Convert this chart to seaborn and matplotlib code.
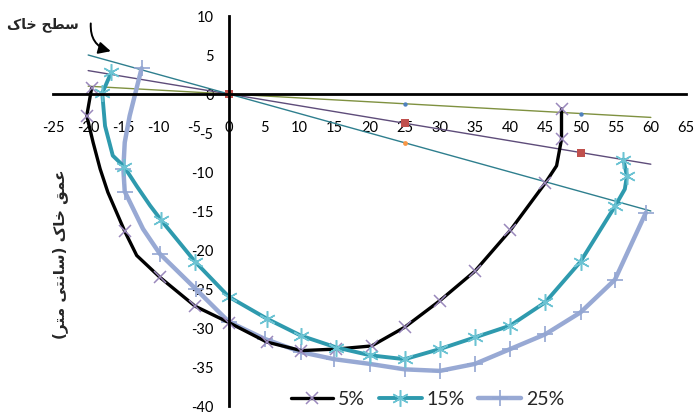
import matplotlib
matplotlib.use("Agg")
import matplotlib.pyplot as plt
import seaborn as sns

# ---------------- data ----------------
# 5 % curve (black, x markers)
c5_x = [-19.5, -20.2, -19.3, -18.3, -17.2, -14.8, -13.1, -9.8, -4.8, 0.0, 5.4, 10.3,
        15.3, 20.3, 25.0, 30.0, 35.0, 40.0, 45.0, 46.6, 47.3, 47.3]
c5_y = [0.8, -2.8, -6.2, -9.6, -12.6, -17.6, -20.7, -23.5, -27.2, -29.3, -31.8, -32.9,
        -32.7, -32.3, -29.9, -26.5, -22.7, -17.5, -11.4, -9.2, -5.8, -1.9]
c5_marks = [0, 1, 5, 7, 8, 9, 10, 11, 12, 13, 14, 15, 16, 17, 18, 20, 21]

# 15 % curve (teal, star markers)
c15_x = [-16.7, -18.0, -17.6, -16.5, -14.9, -13.1, -11.2, -9.6, -4.8, 0.0, 5.4, 10.3,
         15.3, 20.1, 25.0, 30.0, 35.0, 40.0, 45.0, 50.0, 54.9, 56.3, 56.6, 56.1]
c15_y = [2.8, 0.1, -4.1, -7.9, -9.3, -11.8, -14.3, -16.2, -21.5, -26.0, -28.8, -31.0,
         -32.5, -33.5, -34.0, -32.7, -31.2, -29.7, -26.7, -21.5, -14.4, -12.2, -10.5, -8.4]
c15_marks = [0, 1, 4, 7, 8, 9, 10, 11, 12, 13, 14, 15, 16, 17, 18, 19, 20, 22, 23]

# 25 % curve (light blue, plus markers)
c25_x = [-12.4, -14.1, -14.8, -15.0, -14.8, -12.2, -9.8, -4.7, 0.0, 5.1, 10.3, 15.0,
         20.0, 25.0, 30.0, 35.0, 40.0, 45.0, 50.0, 54.9, 59.3]
c25_y = [3.3, -2.8, -6.2, -9.6, -12.5, -17.3, -20.5, -25.0, -29.2, -31.4, -33.1, -34.0,
         -34.6, -35.3, -35.5, -34.6, -32.7, -30.8, -28.0, -23.8, -15.2]
c25_marks = [0, 3, 4, 6, 7, 8, 9, 10, 11, 12, 13, 14, 15, 16, 17, 18, 19, 20]

series_labels = ["5%", "15%", "25%"]

# straight reference lines from the origin
ref_x = [-20, 60]
ref_green_y = [1.0, -3.0]
ref_purple_y = [3.0, -9.0]
ref_teal_y = [5.0, -15.0]
# small markers on the reference lines
pts_x = [0, 25, 50]
pts_green_y = [0.0, -1.25, -2.5]
pts_purple_y = [0.0, -3.75, -7.5]
pts_teal_x = [0, 25]
pts_teal_y = [0.0, -6.25]

x_ticks = list(range(-25, 70, 5))
y_ticks = list(range(-40, 15, 5))

ylabel_text = "عمق خاک (سانتی متر)"
annot_text = "سطح خاک"

# ---------------- minimal Arabic/Persian shaping for display ----------------
FORMS = {
    '\u0627': ('\uFE8D', '\uFE8E', None, None),
    '\u062A': ('\uFE95', '\uFE96', '\uFE97', '\uFE98'),
    '\u062D': ('\uFEA1', '\uFEA2', '\uFEA3', '\uFEA4'),
    '\u062E': ('\uFEA5', '\uFEA6', '\uFEA7', '\uFEA8'),
    '\u0631': ('\uFEAD', '\uFEAE', None, None),
    '\u0633': ('\uFEB1', '\uFEB2', '\uFEB3', '\uFEB4'),
    '\u0637': ('\uFEC1', '\uFEC2', '\uFEC3', '\uFEC4'),
    '\u0639': ('\uFEC9', '\uFECA', '\uFECB', '\uFECC'),
    '\u0642': ('\uFED5', '\uFED6', '\uFED7', '\uFED8'),
    '\u0645': ('\uFEE1', '\uFEE2', '\uFEE3', '\uFEE4'),
    '\u0646': ('\uFEE5', '\uFEE6', '\uFEE7', '\uFEE8'),
    '\u06A9': ('\uFB8E', '\uFB8F', '\uFB90', '\uFB91'),
    '\u06CC': ('\uFBFC', '\uFBFD', '\uFBFE', '\uFBFF'),
}


def shape_rtl(s):
    out = []
    for i, c in enumerate(s):
        if c not in FORMS:
            out.append(c)
            continue
        f = FORMS[c]
        prev = s[i - 1] if i > 0 else ''
        nxt = s[i + 1] if i + 1 < len(s) else ''
        jp = prev in FORMS and FORMS[prev][2] is not None
        jn = nxt in FORMS and f[2] is not None
        if jp and jn:
            g = f[3]
        elif jp:
            g = f[1]
        elif jn:
            g = f[2]
        else:
            g = f[0]
        out.append(g)
    vis = ''.join(reversed(out))
    return vis.translate(str.maketrans('()', ')('))


# ---------------- plotting ----------------
sns.set_theme(style="white")
plt.rcParams['font.family'] = ['Lato', 'DejaVu Sans']

fig = plt.figure(figsize=(6.95, 4.14), dpi=100)
ax = fig.add_axes([53 / 695, 7 / 414, 633 / 695, 390 / 414])

# reference lines
sns.lineplot(x=ref_x, y=ref_green_y, ax=ax, color="#7F9140", lw=1.0, zorder=2)
sns.lineplot(x=ref_x, y=ref_purple_y, ax=ax, color="#5E4C7A", lw=1.0, zorder=2)
sns.lineplot(x=ref_x, y=ref_teal_y, ax=ax, color="#2E7F8E", lw=1.0, zorder=2)
sns.scatterplot(x=pts_x, y=pts_green_y, ax=ax, color="#4F81BD", s=10, linewidth=0, zorder=3)
sns.scatterplot(x=pts_x, y=pts_purple_y, ax=ax, color="#C0504D", s=28, marker='s', linewidth=0, zorder=3)
sns.scatterplot(x=pts_teal_x, y=pts_teal_y, ax=ax, color="#F79646", s=12, linewidth=0, zorder=3)

# curves
sns.lineplot(x=c5_x, y=c5_y, ax=ax, sort=False, estimator=None, color="black", lw=2.4,
             marker='x', markevery=c5_marks, markersize=9, markeredgewidth=1.1,
             markeredgecolor="#9A88BC", label=series_labels[0], zorder=5)
sns.lineplot(x=c15_x, y=c15_y, ax=ax, sort=False, estimator=None, color="#2E9AAE", lw=2.8,
             marker=(6, 2, 0), markevery=c15_marks, markersize=12, markeredgewidth=1.1,
             markeredgecolor="#6CC3D3", label=series_labels[1], zorder=5)
sns.lineplot(x=c25_x, y=c25_y, ax=ax, sort=False, estimator=None, color="#98A9D4", lw=3.2,
             marker='+', markevery=c25_marks, markersize=12, markeredgewidth=1.2,
             markeredgecolor="#93A6D2", label=series_labels[2], zorder=4)

ax.set_xlim(-25, 65)
ax.set_ylim(-40, 10)
ax.set_xticks(x_ticks)
ax.set_yticks(y_ticks)
ax.set_xticklabels([str(v) for v in x_ticks])
ax.set_yticklabels([str(v) for v in y_ticks])

for side in ['top', 'right']:
    ax.spines[side].set_visible(False)
ax.spines['left'].set_position(('data', 0))
ax.spines['bottom'].set_position(('data', 0))
for side in ['left', 'bottom']:
    ax.spines[side].set_linewidth(2.0)
    ax.spines[side].set_color('black')
    ax.spines[side].set_zorder(6)

ax.tick_params(axis='x', direction='in', length=4, width=1.6, color='black',
               pad=19, labelsize=10.5, labelcolor='black')
ax.tick_params(axis='y', direction='in', length=0, pad=11, labelsize=10.5, labelcolor='black')
ax.grid(False)
ax.set_xlabel('')
ax.set_ylabel('')
ax.patch.set_alpha(0)

# legend
handles = [l for l in ax.get_lines() if l.get_label() in series_labels]
ax.legend(handles=handles, labels=series_labels, loc='center', ncol=3,
          bbox_to_anchor=(0.615, 0.034), bbox_transform=fig.transFigure,
          frameon=False, fontsize=14, handlelength=2.2, handletextpad=0.25,
          columnspacing=0.7)

# y-axis title (Persian)
fig.text(0.086, 0.385, shape_rtl(ylabel_text), rotation=90, ha='center', va='center',
         fontsize=11, fontweight='bold', family=['DejaVu Sans'])

# annotation "soil surface" with curved arrow
fig.text(0.062, 0.94, shape_rtl(annot_text), ha='center', va='center',
         fontsize=10, fontweight='bold', family=['DejaVu Sans'])
ax.annotate('', xy=(-16.4, 5.4), xytext=(-19.6, 9.4), annotation_clip=False,
            arrowprops=dict(arrowstyle='-|>,head_length=0.6,head_width=0.3',
                            connectionstyle='arc3,rad=0.45', color='black', lw=1.4))

fig.savefig("out.png", dpi=100)
